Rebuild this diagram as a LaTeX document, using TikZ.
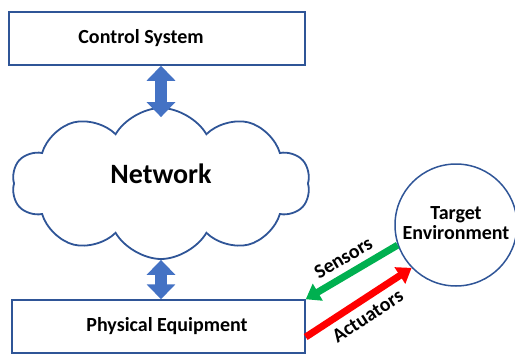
\documentclass[tikz,border=0pt]{standalone}
\usepackage{fontspec}
\setmainfont{Carlito}
\usetikzlibrary{shapes.symbols,arrows.meta,positioning}
\definecolor{boxblue}{HTML}{2F5597}
\definecolor{fillblue}{HTML}{4472C4}
\definecolor{sensgreen}{HTML}{00B050}
\definecolor{actred}{HTML}{FF0000}
\tikzset{
  block/.style={rectangle, draw=boxblue, line width=1.5pt, minimum height=53pt,
    inner sep=0pt, font=\fontsize{20}{24}\selectfont\bfseries},
  cloudy/.style={cloud, cloud puffs=10, cloud puff arc=120, aspect=2,
    draw=boxblue, line width=1.8pt, minimum width=298pt, minimum height=151pt, inner sep=0pt},
  place/.style={circle, draw=boxblue, line width=1.5pt, minimum size=122pt, inner sep=0pt,
    align=center, font=\fontsize{20}{24}\selectfont\bfseries},
  link/.style={draw=fillblue, line width=12pt,
    {Triangle[width=28pt,length=15pt]}-{Triangle[width=28pt,length=15pt]}},
  sensor/.style={draw=sensgreen, line width=7pt, -{Triangle[width=19pt,length=14pt]}},
  actuator/.style={draw=actred, line width=7pt, -{Triangle[width=19pt,length=14pt]}},
  tag/.style={font=\fontsize{20}{24}\selectfont\bfseries}
}
\begin{document}
\begin{tikzpicture}[x=1pt,y=-1pt]
  \useasboundingbox (0,0) rectangle (515,354);

  % Boxes
  \node[block, minimum width=296pt] (ctrl) at (157,38.5) {\hspace*{-32pt}Control System};
  \node[cloudy, label={[font=\fontsize{28}{32}\selectfont\bfseries, yshift=10pt]center:Network}]
    (net) at (161,183.5) {};
  \node[block, minimum width=293pt] (equip) at (158.5,326.5) {\hspace*{17pt}Physical Equipment};

  % Environment
  \node[place] (target) at (456,225) {\raisebox{4pt}{\shortstack{Target\\Environment}}};

  % Links
  \draw[link] (ctrl.south -| net.center) -- ([yshift=-10pt]net.north);
  \draw[link] (net.south) -- (net.south |- equip.north);

  \draw[sensor] (target.199) -- (equip.north east)
    node[tag, midway, sloped, above=3pt] {Sensors};
  \draw[actuator] ([yshift=-10.5pt]equip.east) -- (target.224)
    node[tag, midway, sloped, below=3pt] {Actuators};
\end{tikzpicture}
\end{document}
